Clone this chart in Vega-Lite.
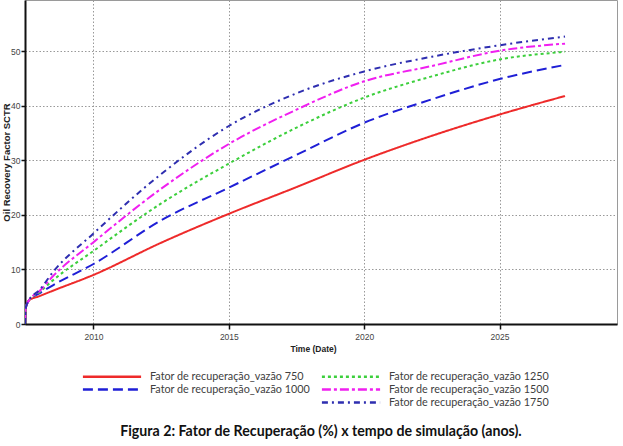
{
  "$schema": "https://vega.github.io/schema/vega-lite/v6.json",
  "width": 592,
  "height": 324,
  "autosize": {"type": "none"},
  "padding": {"left": 25, "top": 0, "right": 6, "bottom": 122},
  "background": "white",
  "config": {"view": {"stroke": "#9a9a9a", "strokeWidth": 1}, "font": "Liberation Sans"},
  "title": {
    "text": "Figura 2: Fator de Recuperação (%) x tempo de simulação (anos).",
    "orient": "bottom", "anchor": "middle", "frame": "group",
    "font": "Lato", "fontSize": 14.2, "fontWeight": "bold", "color": "#111", "offset": 17
  },
  "datasets": {
    "curvas": [
      {"serie": "Fator de recuperação_vazão 750", "ano": 2007.47, "fr": 0},
      {"serie": "Fator de recuperação_vazão 750", "ano": 2007.5, "fr": 3.0},
      {"serie": "Fator de recuperação_vazão 750", "ano": 2007.61, "fr": 4.3},
      {"serie": "Fator de recuperação_vazão 750", "ano": 2008.0, "fr": 5.1},
      {"serie": "Fator de recuperação_vazão 750", "ano": 2008.5, "fr": 6.1},
      {"serie": "Fator de recuperação_vazão 750", "ano": 2010.0, "fr": 9.0},
      {"serie": "Fator de recuperação_vazão 750", "ano": 2012.5, "fr": 14.9},
      {"serie": "Fator de recuperação_vazão 750", "ano": 2015.0, "fr": 20.2},
      {"serie": "Fator de recuperação_vazão 750", "ano": 2017.5, "fr": 25.1},
      {"serie": "Fator de recuperação_vazão 750", "ano": 2020.0, "fr": 30.1},
      {"serie": "Fator de recuperação_vazão 750", "ano": 2022.5, "fr": 34.5},
      {"serie": "Fator de recuperação_vazão 750", "ano": 2025.0, "fr": 38.4},
      {"serie": "Fator de recuperação_vazão 750", "ano": 2027.42, "fr": 41.8},
      {"serie": "Fator de recuperação_vazão 1000", "ano": 2007.47, "fr": 0},
      {"serie": "Fator de recuperação_vazão 1000", "ano": 2007.5, "fr": 3.0},
      {"serie": "Fator de recuperação_vazão 1000", "ano": 2007.61, "fr": 4.3},
      {"serie": "Fator de recuperação_vazão 1000", "ano": 2008.0, "fr": 5.6},
      {"serie": "Fator de recuperação_vazão 1000", "ano": 2008.5, "fr": 7.1},
      {"serie": "Fator de recuperação_vazão 1000", "ano": 2010.0, "fr": 11.0},
      {"serie": "Fator de recuperação_vazão 1000", "ano": 2012.5, "fr": 19.0},
      {"serie": "Fator de recuperação_vazão 1000", "ano": 2015.0, "fr": 25.0},
      {"serie": "Fator de recuperação_vazão 1000", "ano": 2017.5, "fr": 31.0},
      {"serie": "Fator de recuperação_vazão 1000", "ano": 2020.0, "fr": 36.9},
      {"serie": "Fator de recuperação_vazão 1000", "ano": 2022.5, "fr": 41.2},
      {"serie": "Fator de recuperação_vazão 1000", "ano": 2025.0, "fr": 44.9},
      {"serie": "Fator de recuperação_vazão 1000", "ano": 2027.42, "fr": 47.5},
      {"serie": "Fator de recuperação_vazão 1250", "ano": 2007.47, "fr": 0},
      {"serie": "Fator de recuperação_vazão 1250", "ano": 2007.5, "fr": 3.0},
      {"serie": "Fator de recuperação_vazão 1250", "ano": 2007.61, "fr": 4.3},
      {"serie": "Fator de recuperação_vazão 1250", "ano": 2008.0, "fr": 5.8},
      {"serie": "Fator de recuperação_vazão 1250", "ano": 2008.5, "fr": 8.0},
      {"serie": "Fator de recuperação_vazão 1250", "ano": 2010.0, "fr": 13.4},
      {"serie": "Fator de recuperação_vazão 1250", "ano": 2012.5, "fr": 22.1},
      {"serie": "Fator de recuperação_vazão 1250", "ano": 2015.0, "fr": 29.4},
      {"serie": "Fator de recuperação_vazão 1250", "ano": 2017.5, "fr": 36.0},
      {"serie": "Fator de recuperação_vazão 1250", "ano": 2020.0, "fr": 41.5},
      {"serie": "Fator de recuperação_vazão 1250", "ano": 2022.5, "fr": 45.4},
      {"serie": "Fator de recuperação_vazão 1250", "ano": 2025.0, "fr": 48.5},
      {"serie": "Fator de recuperação_vazão 1250", "ano": 2027.42, "fr": 49.9},
      {"serie": "Fator de recuperação_vazão 1500", "ano": 2007.47, "fr": 0},
      {"serie": "Fator de recuperação_vazão 1500", "ano": 2007.5, "fr": 3.0},
      {"serie": "Fator de recuperação_vazão 1500", "ano": 2007.61, "fr": 4.3},
      {"serie": "Fator de recuperação_vazão 1500", "ano": 2008.0, "fr": 6.0},
      {"serie": "Fator de recuperação_vazão 1500", "ano": 2008.5, "fr": 8.75},
      {"serie": "Fator de recuperação_vazão 1500", "ano": 2010.0, "fr": 15.0},
      {"serie": "Fator de recuperação_vazão 1500", "ano": 2012.5, "fr": 24.8},
      {"serie": "Fator de recuperação_vazão 1500", "ano": 2015.0, "fr": 33.0},
      {"serie": "Fator de recuperação_vazão 1500", "ano": 2017.5, "fr": 39.3},
      {"serie": "Fator de recuperação_vazão 1500", "ano": 2020.0, "fr": 44.5},
      {"serie": "Fator de recuperação_vazão 1500", "ano": 2022.5, "fr": 47.3},
      {"serie": "Fator de recuperação_vazão 1500", "ano": 2025.0, "fr": 50.1},
      {"serie": "Fator de recuperação_vazão 1500", "ano": 2027.42, "fr": 51.4},
      {"serie": "Fator de recuperação_vazão 1750", "ano": 2007.47, "fr": 0},
      {"serie": "Fator de recuperação_vazão 1750", "ano": 2007.5, "fr": 3.0},
      {"serie": "Fator de recuperação_vazão 1750", "ano": 2007.61, "fr": 4.3},
      {"serie": "Fator de recuperação_vazão 1750", "ano": 2008.0, "fr": 6.2},
      {"serie": "Fator de recuperação_vazão 1750", "ano": 2008.5, "fr": 9.5},
      {"serie": "Fator de recuperação_vazão 1750", "ano": 2010.0, "fr": 16.6},
      {"serie": "Fator de recuperação_vazão 1750", "ano": 2012.5, "fr": 27.5},
      {"serie": "Fator de recuperação_vazão 1750", "ano": 2015.0, "fr": 36.3},
      {"serie": "Fator de recuperação_vazão 1750", "ano": 2017.5, "fr": 42.3},
      {"serie": "Fator de recuperação_vazão 1750", "ano": 2020.0, "fr": 46.3},
      {"serie": "Fator de recuperação_vazão 1750", "ano": 2022.5, "fr": 49.0},
      {"serie": "Fator de recuperação_vazão 1750", "ano": 2025.0, "fr": 51.1},
      {"serie": "Fator de recuperação_vazão 1750", "ano": 2027.42, "fr": 52.7}
    ]
  },
  "data": {"name": "curvas"},
  "mark": {"type": "line", "strokeWidth": 2, "interpolate": "monotone", "clip": true},
  "encoding": {
    "x": {
      "field": "ano", "type": "quantitative",
      "scale": {"domain": [2007.47, 2029.34], "nice": false, "zero": false},
      "axis": {
        "values": [2010, 2015, 2020, 2025], "format": "d",
        "title": "Time (Date)", "titleFont": "Liberation Sans", "titleFontSize": 8.5, "titleFontWeight": "bold", "titleColor": "#222", "titlePadding": 4, "titleX": 288,
        "labelFont": "Liberation Sans", "labelFontSize": 8.5, "labelColor": "#444", "labelPadding": 3,
        "tickSize": 5, "tickWidth": 1.5, "tickColor": "#111",
        "domainColor": "#111", "domainWidth": 2,
        "grid": true, "gridColor": "#999", "gridDash": [1.5, 2], "gridWidth": 1
      }
    },
    "y": {
      "field": "fr", "type": "quantitative",
      "scale": {"domain": [0, 59.4], "nice": false},
      "axis": {
        "values": [0, 10, 20, 30, 40, 50],
        "title": "Oil Recovery Factor SCTR", "titleFont": "Liberation Sans", "titleFontSize": 9.5, "titleFontWeight": "bold", "titleColor": "#222",
        "titleX": -14, "titleY": 162, "titleAngle": -90, "titleAlign": "center", "titleBaseline": "bottom",
        "labelFont": "Liberation Sans", "labelFontSize": 8.5, "labelColor": "#444", "labelPadding": 1,
        "tickSize": 4, "tickWidth": 1.5, "tickColor": "#111",
        "domainColor": "#111", "domainWidth": 2,
        "grid": true, "gridColor": "#999", "gridDash": [1.5, 2], "gridWidth": 1
      }
    },
    "color": {
      "field": "serie", "type": "nominal",
      "scale": {
        "domain": ["Fator de recuperação_vazão 750", "Fator de recuperação_vazão 1000", " ", "Fator de recuperação_vazão 1250", "Fator de recuperação_vazão 1500", "Fator de recuperação_vazão 1750"],
        "range": ["#ee2a2a", "#1f1fd6", "rgba(255,255,255,0)", "#3ccf3c", "#f01ff0", "#2e2eb0"]
      },
      "legend": {
        "orient": "none", "legendX": 58, "legendY": 370, "direction": "vertical", "columns": 2, "title": null,
        "symbolType": "M-6,0H6", "symbolSize": 94, "symbolStrokeWidth": 2.5, "symbolOffset": 22.5,
        "labelFont": "Lato", "labelFontSize": 10.8, "labelColor": "#404040", "labelLimit": 0, "labelOffset": 31.5,
        "columnPadding": 6, "rowPadding": 1
      }
    },
    "strokeDash": {
      "field": "serie", "type": "nominal",
      "scale": {
        "domain": ["Fator de recuperação_vazão 750", "Fator de recuperação_vazão 1000", " ", "Fator de recuperação_vazão 1250", "Fator de recuperação_vazão 1500", "Fator de recuperação_vazão 1750"],
        "range": [[1, 0], [10, 5], [1, 0], [3, 3], [9, 3, 3, 3], [6, 4, 2, 4]]
      },
      "legend": {
        "orient": "none", "legendX": 58, "legendY": 370, "direction": "vertical", "columns": 2, "title": null,
        "symbolType": "M-6,0H6", "symbolSize": 94, "symbolStrokeWidth": 2.5, "symbolOffset": 22.5,
        "labelFont": "Lato", "labelFontSize": 10.8, "labelColor": "#404040", "labelLimit": 0, "labelOffset": 31.5,
        "columnPadding": 6, "rowPadding": 1
      }
    }
  }
}
